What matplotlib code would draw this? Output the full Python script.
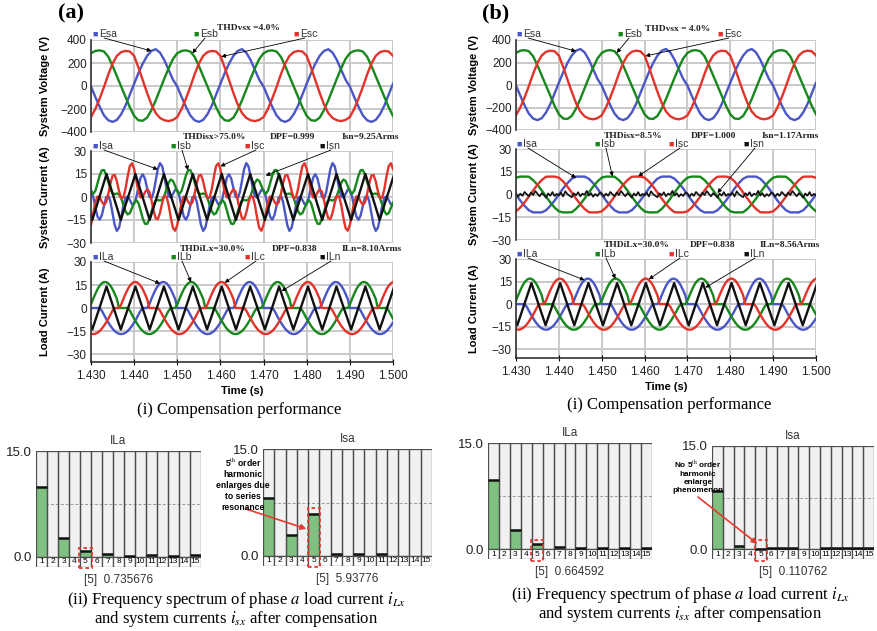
import numpy as np
import matplotlib.pyplot as plt
from matplotlib.patches import Rectangle
from matplotlib.ticker import FormatStrFormatter

plt.rcParams['font.family'] = ['Liberation Sans', 'DejaVu Sans']
plt.rcParams['mathtext.fontset'] = 'stix'

W, H = 878, 631

# one 20 ms period of every trace, starting at t = 1.430 s
# source voltages (V), 1 ms steps, same supply in (a) and (b)
Esa = [-5, -95, -180, -255, -298, -312, -295, -245, -170, -75, 20, 112, 195, 262, 305, 320, 290, 225, 140, 55]
Esb = [285, 305, 310, 300, 255, 175, 85, -5, -95, -185, -260, -298, -302, -275, -210, -125, -30, 65, 155, 235]
Esc = [-270, -200, -110, -10, 100, 195, 262, 295, 305, 300, 262, 160, 50, -60, -160, -235, -278, -298, -305, -295]

# (a) system currents (A), 0.5 ms steps
Isa_a = [4.5, 0.3, -6.6, -12.7, -14.8, -12.0, -5.9, -0.4, 1.0, -3.0, -10.7, -18.4, -22.1, -20.0, -13.4, -5.6, -0.5, 0.4, -2.0, -4.7,
         -4.5, -0.3, 6.6, 12.7, 14.8, 12.0, 5.9, 0.4, -1.0, 3.0, 10.7, 18.4, 22.1, 20.0, 13.4, 5.6, 0.5, -0.4, 2.0, 4.7]
Isb_a = [3.7, 2.1, 4.0, 8.8, 14.0, 17.4, 17.6, 14.6, 9.8, 5.0, 2.3, 1.9, 2.3, 1.7, -0.9, -5.1, -9.3, -11.4, -10.5, -7.2,
         -3.7, -2.1, -4.0, -8.8, -14.0, -17.4, -17.6, -14.6, -9.8, -5.0, -2.3, -1.9, -2.3, -1.7, 0.9, 5.1, 9.3, 11.4, 10.5, 7.2]
Isc_a = [-18.2, -10.7, -3.5, 0.3, -0.1, -3.0, -5.0, -3.5, 1.9, 8.9, 13.9, 14.4, 10.2, 3.8, -0.7, -0.3, 5.3, 13.5, 20.2, 22.0,
         18.2, 10.7, 3.5, -0.3, 0.1, 3.0, 5.0, 3.5, -1.9, -8.9, -13.9, -14.4, -10.2, -3.8, 0.7, 0.3, -5.3, -13.5, -20.2, -22.0]
# neutral currents: corners of the 150 Hz triangle (ms within the period, A)
tri_ms = [0.3, 3.6, 6.9, 10.3, 13.6, 16.9]
Isn_a = [-15, 15, -15, 15, -15, 15]
ILn = [-14, 14, -14, 14, -14, 14]

# load currents (A), 0.5 ms steps, same load in (a) and (b)
ILa = [0, 0, 0, 0, 0, -1.7, -4.4, -7.0, -9.4, -11.6, -13.5, -15.0, -16.1, -16.8, -17.0, -16.8, -16.1, -15.0, -13.5, -11.6,
       -9.4, -7.0, -4.4, -1.7, 0, 0, 0, 2.3, 5.9, 9.2, 12.2, 14.5, 16.1, 16.9, 16.9, 16.1, 14.5, 12.2, 9.2, 5.9]
ILb = [2.3, 5.9, 9.2, 12.2, 14.5, 16.1, 16.9, 16.9, 16.1, 14.5, 12.2, 9.2, 5.9, 0, 0, 0, 0, 0, -1.7, -4.4,
       -7.0, -9.4, -11.6, -13.5, -15.0, -16.1, -16.8, -17.0, -16.8, -16.1, -15.0, -13.5, -11.6, -9.4, -7.0, -4.4, -1.7, 0, 0, 0]
ILc = [-16.8, -17.0, -16.8, -16.1, -15.0, -13.5, -11.6, -9.4, -7.0, -4.4, -1.7, 0, 0, 0, 2.3, 5.9, 9.2, 12.2, 14.5, 16.1,
       16.9, 16.9, 16.1, 14.5, 12.2, 9.2, 5.9, 0, 0, 0, 0, 0, -1.7, -4.4, -7.0, -9.4, -11.6, -13.5, -15.0, -16.1]

# (b) system currents (A), 1 ms steps; neutral 0.5 ms steps
Isa_b = [0, -4.0, -7.5, -10.4, -11.8, -11.8, -11.8, -10.4, -7.5, -4.0, 0, 4.0, 7.5, 10.4, 11.8, 11.8, 11.8, 10.4, 7.5, 4.0]
Isb_b = [11.1, 11.8, 11.8, 11.7, 9.5, 6.4, 2.7, -1.3, -5.2, -8.6, -11.1, -11.8, -11.8, -11.7, -9.5, -6.4, -2.7, 1.3, 5.2, 8.6]
Isc_b = [-11.1, -8.6, -5.2, -1.3, 2.7, 6.4, 9.5, 11.7, 11.8, 11.8, 11.1, 8.6, 5.2, 1.3, -2.7, -6.4, -9.5, -11.7, -11.8, -11.8]
Isn_b = [0.8, -1.4, 0.6, -0.9, 1.7, 0.2, -1.1, 1.3, -0.4, 2.3, 0.5, -1.2, 0.9, -0.3, -2.1, 0.7, -0.8, 1.6, -1.0, 0.4,
         -0.6, 1.2, -1.3, 2.1, 0.3, -0.9, -1.8, 0.8, -0.5, 1.5, -1.2, 0.6, -0.2, 2.4, -0.7, 0.9, -1.5, 0.3, -1.0, 1.1]

# harmonic spectra, orders 1..15
orders = np.arange(1, 16)
ILa_spec_a = [9.9, 0, 2.6, 0, 0.74, 0, 0.34, 0, 0.15, 0, 0.2, 0, 0.15, 0, 0.2]
Isa_spec_a = [8.2, 0, 2.9, 0, 5.94, 0, 0.3, 0, 0.3, 0, 0.3, 0, 0, 0, 0]
ILa_spec_b = [9.8, 0, 2.7, 0, 0.66, 0, 0.33, 0, 0.2, 0, 0.2, 0, 0.2, 0, 0.2]
Isa_spec_b = [8.4, 0, 0.5, 0, 0.11, 0.2, 0.2, 0.2, 0, 0, 0.2, 0.2, 0.2, 0.2, 0.2]

BLUE, GREEN, RED, BLACK = '#4a56c6', '#17881c', '#e2332b', '#111111'

fig = plt.figure(figsize=(W / 100, H / 100), dpi=100)


def px_axes(l, t, r, b):
    return fig.add_axes([l / W, 1 - b / H, (r - l) / W, (b - t) / H])


def fpx(x, y):
    return (x, H - y)


def tiled(vals, step_ms):
    n = int(round(70 / step_ms)) + 1
    t = 1.430 + np.arange(n) * step_ms / 1000
    return t, np.tile(vals, 5)[:n]


def triangle(vals):
    t = np.concatenate([np.asarray(tri_ms) + 20 * k for k in range(-1, 4)])
    return 1.430 + t / 1000, np.tile(vals, 5)


def wave_axes(box, lim, low, step, ylabel, lab_off, bottom):
    ax = px_axes(*box)
    ax.set_xlim(1.430, 1.500)
    ax.set_ylim(low, lim)
    ax.set_xticks(np.linspace(1.43, 1.50, 8))
    ax.set_yticks(np.arange(-lim, lim + 1, step))
    ax.grid(True, color='#c9c9c9', lw=1.4)
    ax.set_axisbelow(True)
    for s in ('top', 'right'):
        ax.spines[s].set_visible(False)
    ax.spines['left'].set_color('#333333')
    ax.spines['left'].set_linewidth(1.2)
    ax.tick_params(axis='y', length=0, labelsize=8.5, pad=3, labelcolor='#222222')
    if bottom:
        ax.spines['bottom'].set_color('#333333')
        ax.spines['bottom'].set_linewidth(1.2)
        ax.tick_params(axis='x', length=4, direction='inout', labelsize=8.5, pad=4,
                       labelcolor='#222222')
        ax.xaxis.set_major_formatter(FormatStrFormatter('%.3f'))
        ax.set_xlabel('Time (s)', fontweight='bold', fontsize=8, labelpad=3)
    else:
        ax.spines['bottom'].set_visible(False)
        ax.tick_params(axis='x', length=0, labelbottom=False)
    ax.set_ylabel(ylabel, fontweight='bold', fontsize=8)
    ax.yaxis.set_label_coords(-lab_off / (box[2] - box[0]), 0.5)
    return ax


def key(x, y, color, label):
    fig.text(x / W, 1 - y / H, '\u25a0', color=color, fontsize=6.5, ha='center', va='center')
    fig.text((x + 4) / W, 1 - y / H, label, color='#333333', fontsize=7.5, ha='left', va='center')


def note(x, y, s):
    fig.text(x / W, 1 - y / H, s, family='Liberation Serif', fontweight='bold', fontsize=6.8,
             ha='center', va='center', color='#222222')


def pointer(ax, start, tip):
    ax.annotate('', xy=tip, xycoords='data', xytext=fpx(*start), textcoords='figure pixels',
                arrowprops=dict(arrowstyle='-|>', color='black', lw=0.6, mutation_scale=6,
                                shrinkA=0, shrinkB=0))


def panel(x0, boxes, lows, currents, notes, tips):
    xs = [x0, x0 + 78, x0 + 152, x0 + 227]
    # voltages
    axv = wave_axes(boxes[0], 400, -400, 200, 'System Voltage (V)', boxes[3], False)
    for vals, c in zip((Esa, Esb, Esc), (BLUE, GREEN, RED)):
        axv.plot(*tiled(vals, 1), color=c, lw=1.7)
    # system currents
    axs = wave_axes(boxes[1], 30, -30, 15, 'System Current (A)', boxes[3], False)
    sa, sb, sc, sn, sstep, sn_tri = currents
    for vals, c in zip((sa, sb, sc), (BLUE, GREEN, RED)):
        axs.plot(*tiled(vals, sstep), color=c, lw=1.7)
    if sn_tri:
        axs.plot(*triangle(sn), color=BLACK, lw=1.7)
    else:
        axs.plot(*tiled(sn, 0.5), color=BLACK, lw=1.2)
    # load currents
    axl = wave_axes(boxes[2], 30, lows, 15, 'Load Current (A)', boxes[3], True)
    for vals, c in zip((ILa, ILb, ILc), (BLUE, GREEN, RED)):
        axl.plot(*tiled(vals, 0.5), color=c, lw=1.7)
    axl.plot(*triangle(ILn), color=BLACK, lw=1.7)

    rows = [(axv, ['Esa', 'Esb', 'Esc']), (axs, ['Isa', 'Isb', 'Isc', 'Isn']),
            (axl, ['ILa', 'ILb', 'ILc', 'ILn'])]
    key_y = [34, boxes[1][1] - 5, boxes[2][1] - 5]
    vx = [x0, x0 + 101, x0 + 201]
    for (ax, labels), y, tip_row in zip(rows, key_y, tips):
        pos = vx if len(labels) == 3 else xs
        for lab, px, c, tip in zip(labels, pos, (BLUE, GREEN, RED, BLACK), tip_row):
            key(px + 3, y, c, lab)
            pointer(ax, (px + 12, y + 4), tip)
    for (x, y, s) in notes:
        note(x, y, s)


# ---- panel (a) ----
panel(92, [(91, 40, 393, 132), (91, 151, 393, 243), (91, 262, 393, 362), 41], -35.2,
      (Isa_a, Isb_a, Isc_a, Isn_a, 0.5, True),
      [(248, 28, 'THDvsx =4.0%'), (215, 137, 'THDisx>75.0%'), (292, 137, 'DPF=0.999'),
       (370, 137, 'Isn=9.25Arms'), (213, 249, 'THDiLx=30.0%'), (295, 249, 'DPF=0.838'),
       (372, 249, 'ILn=8.10Arms')],
      [[(1.4440, 305), (1.4535, 285), (1.4602, 255)],
       [(1.4455, 18), (1.4525, 17.5), (1.4600, 20), (1.4705, 14)],
       [(1.4460, 16), (1.4532, 16.9), (1.4610, 16.5), (1.4742, 11)]])

# ---- panel (b) ----
panel(516, [(516, 40, 816, 130), (516, 149, 816, 240), (516, 259, 816, 358), 37], -35.8,
      (Isa_b, Isb_b, Isc_b, Isn_b, 1, False),
      [(678, 29, 'THDvsx = 4.0%'), (633, 136, 'THDisx=8.5%'), (713, 136, 'DPF=1.000'),
       (790, 136, 'Isn=1.17Arms'), (637, 245, 'THDiLx=30.0%'), (713, 245, 'DPF=0.838'),
       (790, 245, 'ILn=8.56Arms')],
      [[(1.4440, 300), (1.4535, 285), (1.4602, 258)],
       [(1.4440, 11), (1.4525, 12), (1.4585, 12), (1.4770, 1)],
       [(1.4460, 16), (1.4532, 16.9), (1.4610, 16.5), (1.4742, 11)]])

fig.text(71 / W, 1 - 13 / H, '(a)', family='Liberation Serif', fontweight='bold', fontsize=16,
         ha='center', va='center')
fig.text(496 / W, 1 - 13 / H, '(b)', family='Liberation Serif', fontweight='bold', fontsize=16,
         ha='center', va='center')
for x, y in ((239, 410), (669, 405)):
    fig.text(x / W, 1 - y / H, '(i) Compensation performance', family='Liberation Serif',
             fontsize=12, ha='center', va='center')


def spectrum(l, t, z, r, b, vals, title, top5, value):
    vals = np.asarray(vals, dtype=float)
    h = 15 * (b - z) / (z - t)
    ax = px_axes(l, t, r, b)
    ax.bar(orders, 15, width=1, color='#f1f1f1', zorder=1)
    ax.axhline(7.5, color='#9a9a9a', ls=(0, (3, 2)), lw=0.7, zorder=1.5)
    ax.bar(orders, vals, width=1, color='#80c080', zorder=2)
    ax.bar(orders, 15, width=1, fill=False, edgecolor='#4d4d4d', lw=0.9, zorder=3)
    on = vals > 0
    ax.hlines(vals[on], orders[on] - 0.5, orders[on] + 0.5, color='#111111', lw=1.8, zorder=4)
    ax.bar(orders, h, bottom=-h, width=1, color='white', edgecolor='#4d4d4d', lw=0.9, zorder=3)
    for k in orders:
        ax.text(k, -h / 2, str(k), ha='center', va='center', fontsize=6, zorder=5)
    ax.add_patch(Rectangle((4.45, -h * 1.12), 1.1, top5 + h * 1.12, fill=False, edgecolor='#e53a2f',
                           ls=(0, (2, 1.5)), lw=1.3, zorder=6, clip_on=False))
    ax.set_xlim(0.5, 15.5)
    ax.set_ylim(-h, 15)
    ax.set_xticks([])
    ax.set_yticks([0, 15])
    ax.set_yticklabels(['0.0', '15.0'])
    ax.tick_params(length=0, labelsize=9.5, pad=3, labelcolor='#222222')
    for s in ax.spines.values():
        s.set_visible(False)
    ax.set_title(title, fontsize=8.5, pad=5, color='#333333')
    fig.text((l + r) / 2 / W, 1 - (b + 13) / H, '[5]  ' + value, fontsize=8.5, ha='center',
             va='center', color='#333333')
    return ax


spectrum(36, 451, 556.7, 201, 567, ILa_spec_a, 'ILa', 1.3, '0.735676')
ax5a = spectrum(263, 449, 556, 432, 566, Isa_spec_a, 'Isa', 6.7, '5.93776')
spectrum(488, 443, 549, 652, 559.3, ILa_spec_b, 'ILa', 1.3, '0.664592')
ax5b = spectrum(712, 446, 549.3, 874, 559.3, Isa_spec_b, 'Isa', 1.35, '0.110762')

fig.text(243 / W, 1 - 484 / H, '5$^{\\rm th}$ order\nharmonic\nenlarges due\nto series\nresonance',
         fontsize=6.2, fontweight='bold', ha='center', va='center', linespacing=1.25)
ax5a.annotate('', xy=(4.35, 3.8), xycoords='data', xytext=fpx(246, 509), textcoords='figure pixels',
              arrowprops=dict(arrowstyle='-|>', color='#e53a2f', lw=1.2, mutation_scale=8,
                              shrinkA=0, shrinkB=0))
fig.text(698 / W, 1 - 476 / H, 'No 5$^{\\rm th}$ order\nharmonic\nenlarge\nphenomenon',
         fontsize=5.9, fontweight='bold', ha='center', va='center', linespacing=1.2)
ax5b.annotate('', xy=(4.7, 0.8), xycoords='data', xytext=fpx(698, 497), textcoords='figure pixels',
              arrowprops=dict(arrowstyle='-|>', color='#e53a2f', lw=1.2, mutation_scale=8,
                              shrinkA=0, shrinkB=0))

for x, y1, y2 in ((236, 600, 619), (680, 595, 614)):
    fig.text(x / W, 1 - y1 / H, '(ii) Frequency spectrum of phase $a$ load current $i_{Lx}$',
             family='Liberation Serif', fontsize=12, ha='center', va='center')
    fig.text(x / W, 1 - y2 / H, 'and system currents $i_{sx}$ after compensation',
             family='Liberation Serif', fontsize=12, ha='center', va='center')

fig.savefig('out.png', dpi=100)
